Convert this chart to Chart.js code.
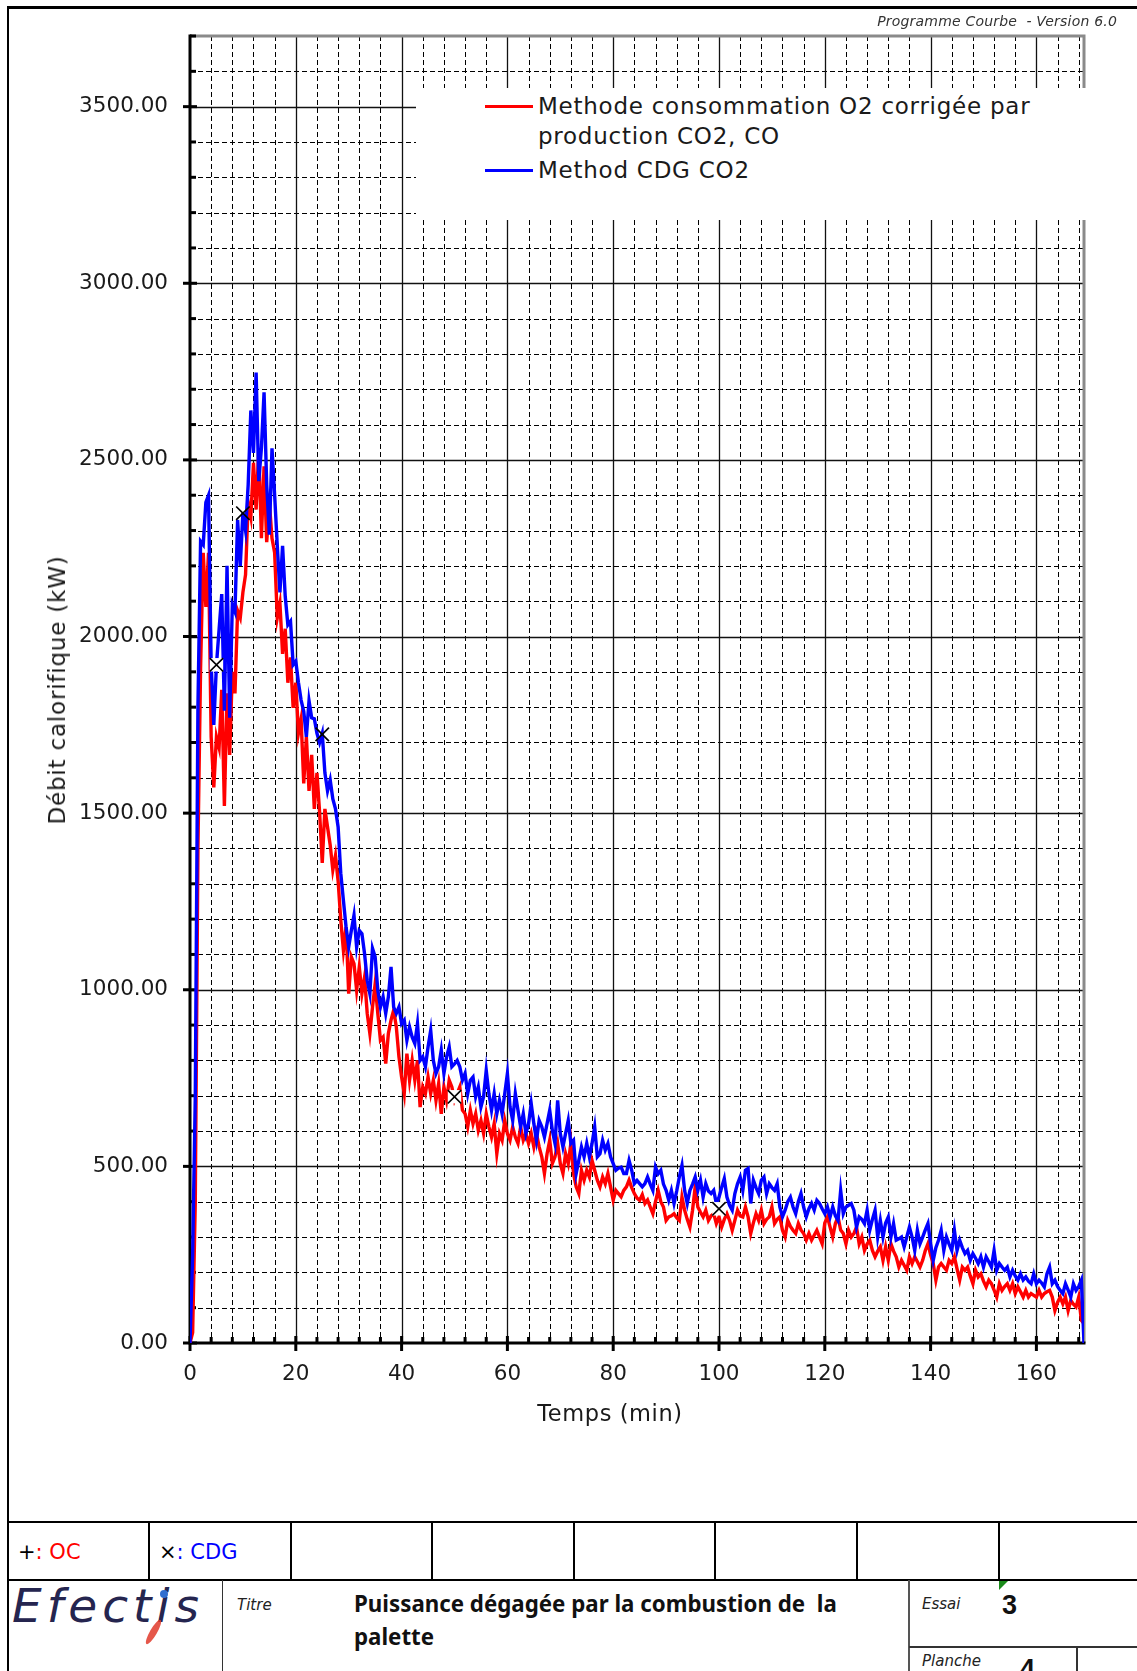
<!DOCTYPE html>
<html><head><meta charset="utf-8">
<script src="https://cdn.jsdelivr.net/npm/chart.js@4.4.1/dist/chart.umd.min.js"></script>
<style>
html,body{margin:0;padding:0;}
body{width:1137px;height:1671px;overflow:hidden;background:#fff;position:relative;font-family:"DejaVu Sans",sans-serif;color:#1a1a1a;}
#frame{position:absolute;left:7px;top:6px;width:1300px;height:1800px;border-left:2.5px solid #000;border-top:3px solid #000;}
#c{position:absolute;left:0;top:0;}
.abs{position:absolute;white-space:nowrap;}
.ln{position:absolute;background:#000;}
</style>
</head><body>
<div id="frame"></div>
<canvas id="c" width="1137" height="1440" style="width:1137px;height:1440px"></canvas>

<div class="abs" style="right:20px;top:13px;font-size:14px;font-style:italic;color:#333;letter-spacing:0.2px;">Programme Courbe&nbsp; - Version 6.0</div>

<div class="abs" style="left:416px;top:88px;width:672px;height:132px;background:#fff;"></div>
<div class="ln" style="left:485px;top:105px;width:48px;height:3px;background:#ff0000;"></div>
<div class="abs" style="left:538px;top:91px;font-size:23px;letter-spacing:0.75px;line-height:30px;color:#1a1a1a;">Methode consommation O2 corrigée par<br>production CO2, CO</div>
<div class="ln" style="left:485px;top:169px;width:48px;height:3px;background:#0000ff;"></div>
<div class="abs" style="left:538px;top:155px;font-size:23px;letter-spacing:0.75px;line-height:30px;color:#1a1a1a;">Method CDG CO2</div>

<div class="abs" style="left:56.5px;top:690px;font-size:23px;letter-spacing:0.8px;transform:translate(-50%,-50%) rotate(-90deg);color:#1a1a1a;">Débit calorifique (kW)</div>
<div class="abs" style="left:610px;top:1413px;font-size:22.5px;letter-spacing:0.6px;transform:translate(-50%,-50%);color:#1a1a1a;">Temps (min)</div>

<!-- bottom table -->
<div class="ln" style="left:8px;top:1520.5px;width:1129px;height:2.2px;"></div>
<div class="ln" style="left:8px;top:1579px;width:1129px;height:2.2px;"></div>
<div class="ln" style="left:148px;top:1521px;width:2px;height:59px;"></div>
<div class="ln" style="left:290px;top:1521px;width:2px;height:59px;"></div>
<div class="ln" style="left:431px;top:1521px;width:2px;height:59px;"></div>
<div class="ln" style="left:573px;top:1521px;width:2px;height:59px;"></div>
<div class="ln" style="left:714px;top:1521px;width:2px;height:59px;"></div>
<div class="ln" style="left:856px;top:1521px;width:2px;height:59px;"></div>
<div class="ln" style="left:997.5px;top:1521px;width:2px;height:59px;"></div>
<div class="ln" style="left:221.5px;top:1580px;width:1.5px;height:100px;background:#333;"></div>
<div class="ln" style="left:908px;top:1580px;width:1.5px;height:100px;background:#555;"></div>
<div class="ln" style="left:909px;top:1646px;width:228px;height:1.5px;background:#333;"></div>
<div class="ln" style="left:1076px;top:1647px;width:1.5px;height:40px;background:#333;"></div>
<div class="abs" style="left:999px;top:1581px;width:0;height:0;border-top:9px solid #1a8a1a;border-right:9px solid transparent;"></div>

<div class="abs" style="left:18px;top:1538px;font-size:21px;line-height:28px;"><span style="color:#000">+</span><span style="color:#ff0000">: OC</span></div>
<div class="abs" style="left:159px;top:1538px;font-size:21px;line-height:28px;"><span style="color:#000">×</span><span style="color:#0000ff">: CDG</span></div>

<div class="abs" style="left:12px;top:1578px;font-size:47px;font-style:italic;letter-spacing:5px;color:#25254f;font-family:'DejaVu Sans',sans-serif;">Efectis</div>
<div class="abs" style="left:150px;top:1618px;width:7px;height:28px;background:#e03a2a;border-radius:50%;transform:rotate(30deg);opacity:0.85;"></div>
<div class="abs" style="left:160px;top:1590px;width:8px;height:8px;background:#2f6fd0;border-radius:50%;"></div>

<div class="abs" style="left:237px;top:1596px;font-size:15px;font-style:italic;color:#222;">Titre</div>
<div class="abs" style="left:354px;top:1587px;font-size:22.3px;line-height:33px;font-weight:bold;font-family:'Noto Sans',sans-serif;color:#111;">Puissance dégagée par la combustion de&nbsp; la<br>palette</div>
<div class="abs" style="left:922px;top:1595px;font-size:15px;font-style:italic;color:#222;">Essai</div>
<div class="abs" style="left:1002px;top:1590px;font-size:27px;font-weight:bold;font-family:'Liberation Sans',sans-serif;color:#111;">3</div>
<div class="abs" style="left:922px;top:1652px;font-size:15px;font-style:italic;color:#222;">Planche</div>
<div class="abs" style="left:1020px;top:1654px;font-size:27px;font-weight:bold;font-family:'Liberation Sans',sans-serif;color:#111;">4</div>

<script>
// ---- data ----
const timeStep = 0.5; // minutes between samples, starting at t = 0
const cdgValues = [ // Method CDG CO2 (kW)
  0, 250, 700, 1800, 2270, 2260, 2380, 2400, 1920, 1750,
  1920, 2020, 2120, 1790, 2200, 1770, 2090, 2070, 2330, 2200,
  2350, 2300, 2430, 2640, 2520, 2747, 2440, 2533, 2691, 2430,
  2288, 2533, 2400, 2257, 2125, 2257, 2114, 2033, 2043, 1920,
  1930, 1870, 1820, 1788, 1716, 1818, 1770, 1767, 1726, 1700,
  1726, 1614, 1563, 1594, 1540, 1512, 1461, 1330, 1253, 1178,
  1121, 1168, 1211, 1121, 1168, 1159, 1102, 1027, 989, 1117,
  1093, 999, 951, 980, 933, 980, 1065, 951, 933, 951,
  904, 914, 857, 895, 866, 848, 904, 800, 810, 782,
  838, 885, 800, 763, 782, 829, 763, 810, 838, 782,
  790, 800, 782, 744, 763, 706, 744, 753, 697, 725,
  668, 697, 772, 706, 659, 706, 649, 687, 649, 706,
  763, 668, 630, 706, 659, 612, 649, 593, 621, 678,
  621, 574, 630, 612, 583, 621, 659, 602, 565, 687,
  593, 555, 593, 630, 565, 574, 480, 517, 555, 527,
  565, 527, 565, 612, 527, 536, 574, 546, 565, 527,
  508, 489, 495, 498, 480, 480, 517, 489, 451, 460,
  451, 442, 451, 470, 450, 432, 498, 479, 489, 450,
  432, 404, 432, 395, 430, 470, 503, 432, 395, 432,
  450, 470, 432, 461, 413, 451, 430, 423, 432, 395,
  413, 440, 465, 413, 390, 376, 423, 451, 470, 432,
  489, 494, 395, 461, 440, 423, 461, 470, 423, 451,
  440, 432, 451, 385, 357, 376, 400, 413, 385, 366,
  400, 423, 385, 357, 380, 395, 376, 404, 395, 380,
  366, 385, 357, 385, 360, 347, 432, 366, 385, 390,
  395, 376, 328, 357, 350, 338, 376, 319, 350, 376,
  300, 347, 300, 340, 357, 300, 338, 291, 295, 300,
  272, 300, 328, 300, 262, 319, 281, 300, 320, 338,
  281, 234, 270, 291, 319, 262, 300, 280, 262, 319,
  262, 291, 270, 253, 262, 234, 253, 240, 225, 244,
  215, 244, 230, 215, 262, 206, 225, 215, 206, 215,
  187, 206, 190, 178, 196, 178, 187, 175, 168, 196,
  168, 178, 170, 159, 196, 215, 168, 178, 160, 149,
  140, 168, 150, 130, 168, 149, 160, 178, 0
];
const ocValues = [ // Methode consommation O2 corrigée (kW)
  0, 30, 400, 1400, 1910, 2237, 2084, 2237, 1716, 1573,
  1716, 1685, 1849, 1520, 1839, 1665, 1900, 1839, 2073, 2053,
  2125, 2175, 2380, 2339, 2492, 2359, 2533, 2278, 2482, 2267,
  2380, 2278, 2237, 2053, 2094, 1951, 2022, 1869, 1941, 1798,
  1869, 1726, 1767, 1584, 1716, 1563, 1665, 1512, 1614, 1502,
  1359, 1512, 1461, 1410, 1339, 1380, 1308, 1197, 1112, 1178,
  989, 1093, 1074, 999, 1065, 989, 1036, 933, 876, 951,
  1017, 933, 857, 866, 791, 876, 914, 942, 895, 810,
  753, 706, 819, 744, 800, 744, 800, 668, 725, 706,
  753, 706, 744, 687, 734, 649, 725, 687, 744, 725,
  687, 706, 725, 659, 649, 612, 659, 621, 649, 602,
  630, 593, 649, 612, 583, 621, 536, 593, 574, 630,
  593, 574, 612, 583, 565, 612, 574, 593, 565, 593,
  555, 593, 555, 527, 480, 536, 574, 508, 527, 565,
  508, 480, 536, 508, 565, 480, 442, 423, 489, 461,
  489, 470, 517, 489, 461, 442, 470, 451, 480, 442,
  404, 432, 423, 414, 432, 442, 461, 440, 423, 410,
  404, 420, 395, 405, 385, 366, 400, 432, 400, 385,
  347, 357, 360, 366, 355, 347, 413, 376, 350, 328,
  376, 442, 385, 370, 357, 376, 347, 360, 366, 338,
  357, 328, 350, 366, 347, 319, 347, 376, 360, 357,
  385, 357, 310, 340, 366, 347, 376, 338, 350, 357,
  385, 338, 350, 357, 319, 300, 347, 330, 319, 310,
  338, 320, 310, 291, 310, 291, 305, 319, 300, 281,
  340, 357, 328, 300, 338, 357, 320, 310, 281, 319,
  300, 310, 328, 281, 300, 262, 280, 291, 262, 244,
  260, 272, 234, 272, 234, 281, 260, 244, 215, 234,
  220, 206, 244, 225, 244, 230, 215, 234, 262, 281,
  250, 225, 178, 215, 225, 215, 206, 234, 225, 244,
  210, 178, 215, 206, 215, 190, 168, 206, 187, 196,
  175, 159, 178, 168, 150, 130, 168, 149, 160, 168,
  149, 168, 140, 159, 145, 130, 149, 130, 140, 135,
  130, 149, 130, 140, 145, 149, 130, 92, 115, 130,
  111, 130, 92, 121, 110, 102, 130, 64, 55
];
const markerTimes  = [5, 10, 25, 50, 100];
const markerValues = [1920, 2349, 1723, 697, 380];
const boxedTimes   = [5, 50, 100];
const boxedValues  = [1920, 697, 380];
const xTickLabels = ['0','20','40','60','80','100','120','140','160'];
const yTickLabels = ['0.00','500.00','1000.00','1500.00','2000.00','2500.00','3000.00','3500.00'];
const xMax = 169, yMax = 3700;

// ---- build ----
const toXY = (vals) => vals.map((v, i) => ({x: i * timeStep, y: v}));
const pairs = (ts, vs) => ts.map((t, i) => ({x: t, y: vs[i]}));

const gridPlugin = {
  id: 'paperGrid',
  beforeDatasetsDraw(chart) {
    const {ctx, chartArea: a, scales: {x, y}} = chart;
    ctx.save();
    ctx.lineWidth = 1;
    ctx.strokeStyle = '#000';
    ctx.setLineDash([5, 3]);
    for (let v = 4; v < xMax; v += 4) {
      if (v % 20 === 0) continue;
      const px = Math.round(x.getPixelForValue(v)) + 0.5;
      ctx.beginPath(); ctx.moveTo(px, a.top); ctx.lineTo(px, a.bottom); ctx.stroke();
    }
    for (let v = 100; v < yMax; v += 100) {
      if (v % 500 === 0) continue;
      const py = Math.round(y.getPixelForValue(v)) + 0.5;
      ctx.beginPath(); ctx.moveTo(a.left, py); ctx.lineTo(a.right, py); ctx.stroke();
    }
    ctx.setLineDash([]);
    ctx.lineWidth = 1.3;
    ctx.strokeStyle = '#111';
    for (let v = 20; v < xMax; v += 20) {
      const px = Math.round(x.getPixelForValue(v)) + 0.5;
      ctx.beginPath(); ctx.moveTo(px, a.top); ctx.lineTo(px, a.bottom); ctx.stroke();
    }
    for (let v = 500; v < yMax; v += 500) {
      const py = Math.round(y.getPixelForValue(v)) + 0.5;
      ctx.beginPath(); ctx.moveTo(a.left, py); ctx.lineTo(a.right, py); ctx.stroke();
    }
    // frame: grey top/right, black left/bottom
    ctx.strokeStyle = '#8a8a8a'; ctx.lineWidth = 3;
    ctx.beginPath(); ctx.moveTo(a.left, a.top); ctx.lineTo(a.right, a.top); ctx.lineTo(a.right, a.bottom); ctx.stroke();
    ctx.strokeStyle = '#000'; ctx.lineWidth = 3;
    ctx.beginPath(); ctx.moveTo(a.left, a.top - 1.5); ctx.lineTo(a.left, a.bottom); ctx.lineTo(a.right + 1.5, a.bottom); ctx.stroke();
    // tick marks
    ctx.lineWidth = 3;
    for (let v = 0; v <= yMax; v += 100) {
      const py = y.getPixelForValue(v);
      ctx.beginPath();
      if (v % 500 === 0) { ctx.moveTo(a.left - 7, py); ctx.lineTo(a.left + 7, py); }
      else { ctx.moveTo(a.left, py); ctx.lineTo(a.left + 6, py); }
      ctx.stroke();
    }
    for (let v = 0; v < xMax; v += 4) {
      const px = x.getPixelForValue(v);
      ctx.beginPath();
      if (v % 20 === 0) { ctx.moveTo(px, a.bottom - 7); ctx.lineTo(px, a.bottom + 8); }
      else { ctx.moveTo(px, a.bottom - 6); ctx.lineTo(px, a.bottom); }
      ctx.stroke();
    }
    ctx.restore();
  }
};

const tickFont = {family: "'DejaVu Sans', sans-serif", size: 21.5};

new Chart(document.getElementById('c'), {
  type: 'line',
  data: {
    datasets: [
      {label: 'Methode consommation O2 corrigée par production CO2, CO', data: toXY(ocValues),
       borderColor: '#ff0000', borderWidth: 3.4, pointRadius: 0, tension: 0, order: 2},
      {label: 'Method CDG CO2', data: toXY(cdgValues),
       borderColor: '#0000ff', borderWidth: 3.4, pointRadius: 0, tension: 0, order: 1},
      {label: 'box', data: pairs(boxedTimes, boxedValues), showLine: false,
       pointStyle: 'rect', pointRadius: 9.5, backgroundColor: '#fff', borderColor: '#fff', borderWidth: 0, order: 0},
      {label: 'CDG marker', data: pairs(markerTimes, markerValues), showLine: false,
       pointStyle: 'crossRot', pointRadius: 9.5, borderColor: '#000', borderWidth: 1.7, order: -1}
    ]
  },
  options: {
    responsive: false,
    animation: false,
    events: [],
    layout: {padding: {left: 0, top: 36, right: 53, bottom: 0}},
    plugins: {legend: {display: false}, tooltip: {enabled: false}},
    scales: {
      x: {
        type: 'linear', min: 0, max: xMax,
        grid: {display: false, drawTicks: false},
        border: {display: false},
        afterFit: (s) => { s.height = 97; },
        ticks: {stepSize: 4, autoSkip: false, maxRotation: 0, padding: 19, color: '#1a1a1a', font: tickFont,
          callback: (v) => (v % 20 === 0 ? xTickLabels[v / 20] : '')}
      },
      y: {
        type: 'linear', min: 0, max: yMax,
        grid: {display: false, drawTicks: false},
        border: {display: false},
        afterFit: (s) => { s.width = 190; },
        ticks: {stepSize: 100, autoSkip: false, padding: 22, color: '#1a1a1a', font: tickFont,
          callback: (v) => (v % 500 === 0 ? yTickLabels[v / 500] : '')}
      }
    }
  },
  plugins: [gridPlugin]
});
</script>
</body></html>
